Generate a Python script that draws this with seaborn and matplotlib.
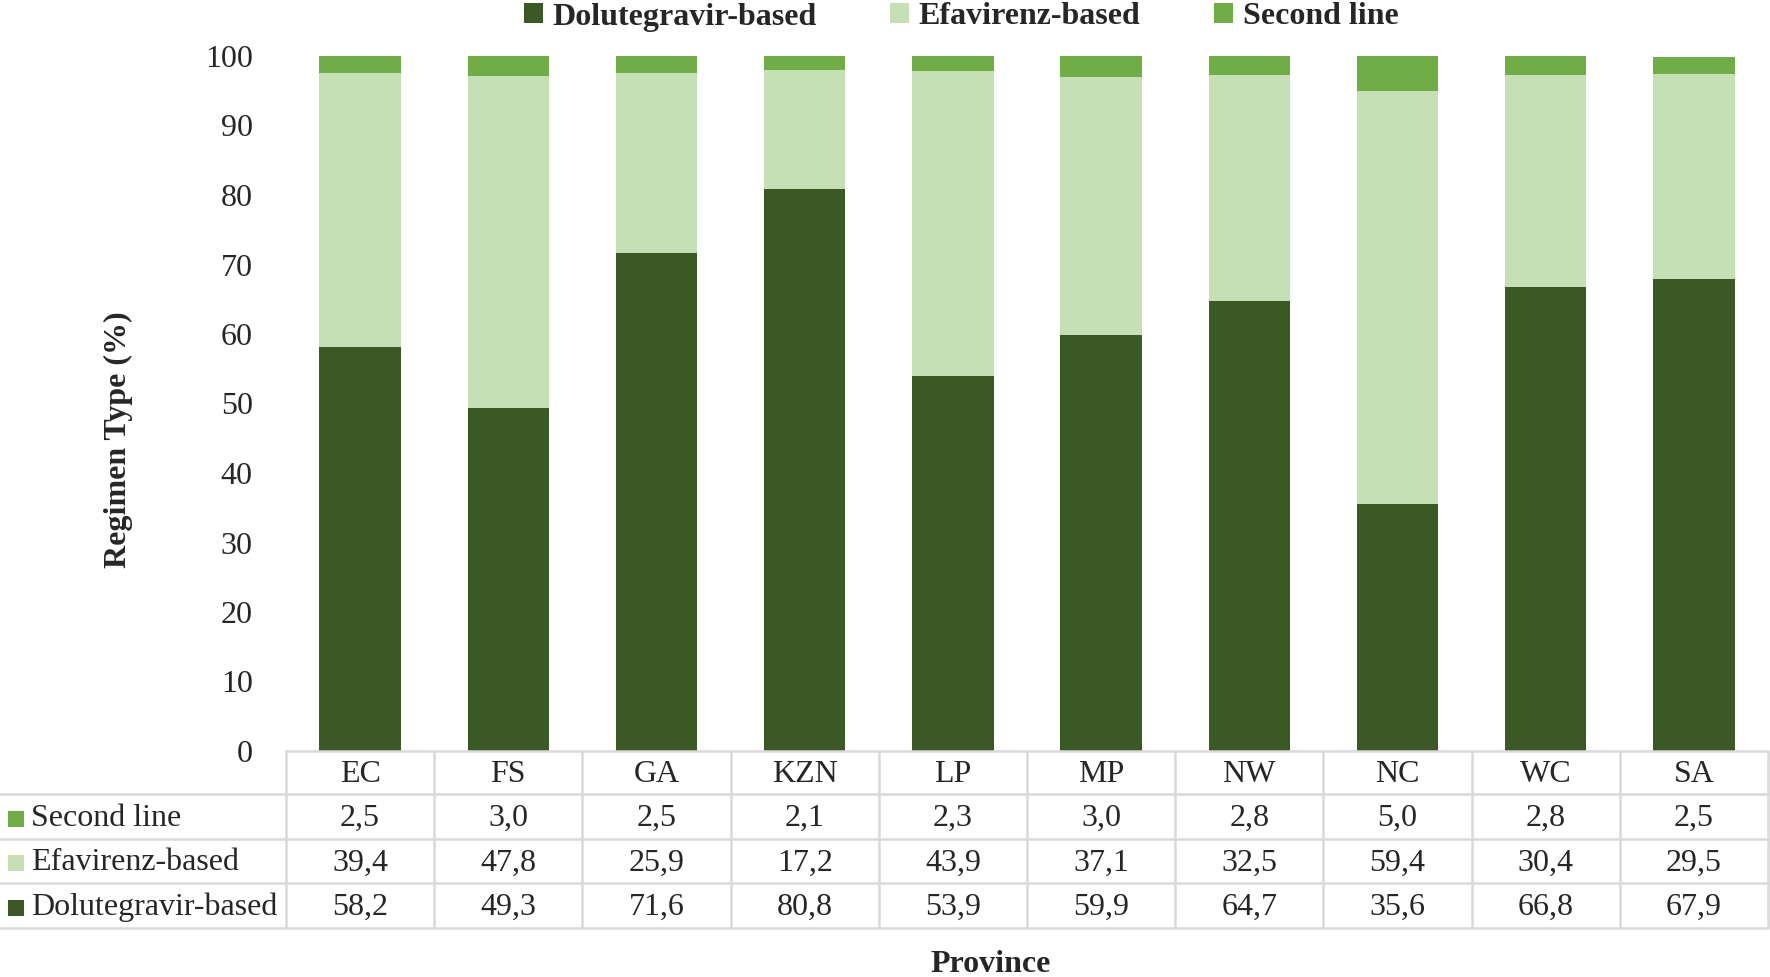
import matplotlib
matplotlib.use("Agg")
import matplotlib.pyplot as plt
from matplotlib.patches import Rectangle
from matplotlib.lines import Line2D
import numpy as np
import pandas as pd
import seaborn as sns

provinces = ["EC", "FS", "GA", "KZN", "LP", "MP", "NW", "NC", "WC", "SA"]
dolutegravir = [58.2, 49.3, 71.6, 80.8, 53.9, 59.9, 64.7, 35.6, 66.8, 67.9]
efavirenz = [39.4, 47.8, 25.9, 17.2, 43.9, 37.1, 32.5, 59.4, 30.4, 29.5]
second_line = [2.5, 3.0, 2.5, 2.1, 2.3, 3.0, 2.8, 5.0, 2.8, 2.5]

series_names = ["Dolutegravir-based", "Efavirenz-based", "Second line"]
colors = {"Dolutegravir-based": "#3B5925",
          "Efavirenz-based": "#C5E0B4",
          "Second line": "#70AD47"}
yticks = list(range(0, 101, 10))

sns.set_theme(style="white")
plt.rcParams["font.family"] = ["Liberation Serif", "DejaVu Serif"]
FS = 23

df = pd.DataFrame({"Province": provinces,
                   "Dolutegravir-based": dolutegravir,
                   "Efavirenz-based": efavirenz,
                   "Second line": second_line})
df["top_dol"] = df["Dolutegravir-based"]
df["top_efa"] = df["top_dol"] + df["Efavirenz-based"]
df["top_sec"] = df["top_efa"] + df["Second line"]

W, H = 1770, 977
fig = plt.figure(figsize=(W / 100, H / 100), dpi=100)
ax_left, ax_right = 286 / W, 1768 / W
ax_bottom, ax_top = 1 - 751 / H, 1 - 56 / H
ax = fig.add_axes([ax_left, ax_bottom, ax_right - ax_left, ax_top - ax_bottom])

# Stacked bars: draw cumulative heights from the top segment downwards
for col, name in [("top_sec", "Second line"), ("top_efa", "Efavirenz-based"),
                  ("top_dol", "Dolutegravir-based")]:
    sns.barplot(data=df, x="Province", y=col, color=colors[name], width=0.55,
                saturation=1, ax=ax, errorbar=None, edgecolor="none")

ax.set_ylim(0, 100)
ax.set_xlim(-0.5, len(provinces) - 0.5)
ax.set_yticks(yticks)
ax.set_yticklabels([str(t) for t in yticks], fontsize=FS)
ax.tick_params(axis="y", length=0, pad=24)
ax.set_xticks([])
ax.set_xlabel("")
ax.set_ylabel("")
for s in ax.spines.values():
    s.set_visible(False)

# Data table beneath the plot, in figure pixel coordinates
grid_c = "#D9D9D9"
row_edges = [751, 794, 839, 883, 928]
col_w = (1768 - 286) / len(provinces)
col_edges = [286 + i * col_w for i in range(len(provinces) + 1)]

def fx(px):
    return px / W

def fy(py):
    return 1 - py / H

fig.text(fx(118), fy(440), "Regimen Type (%)", rotation=90, ha="center",
         va="center", fontsize=FS, fontweight="bold")

lw = 1.8
fig.add_artist(Line2D([fx(286), fx(1768)], [fy(751), fy(751)], color=grid_c, lw=lw))
for yp in row_edges[1:]:
    fig.add_artist(Line2D([fx(0), fx(1768)], [fy(yp), fy(yp)], color=grid_c, lw=lw))
for xp in col_edges:
    fig.add_artist(Line2D([fx(xp), fx(xp)], [fy(751), fy(928)], color=grid_c, lw=lw))

for i, p in enumerate(provinces):
    cx = (col_edges[i] + col_edges[i + 1]) / 2
    fig.text(fx(cx), fy((row_edges[0] + row_edges[1]) / 2 + 2), p,
             ha="center", va="center", fontsize=FS)

table_rows = [("Second line", second_line),
              ("Efavirenz-based", efavirenz),
              ("Dolutegravir-based", dolutegravir)]
for r, (name, vals) in enumerate(table_rows):
    y0, y1 = row_edges[r + 1], row_edges[r + 2]
    cy = (y0 + y1) / 2 + 2
    fig.add_artist(Rectangle((fx(8), fy(cy + 8)), 16 / W, 16 / H,
                             facecolor=colors[name], edgecolor="none",
                             transform=fig.transFigure))
    fig.text(fx(31), fy(cy), name, ha="left", va="center", fontsize=FS)
    for i, v in enumerate(vals):
        cx = (col_edges[i] + col_edges[i + 1]) / 2
        fig.text(fx(cx), fy(cy), f"{v:.1f}".replace(".", ","),
                 ha="center", va="center", fontsize=FS)

fig.text(fx(991), fy(964), "Province", ha="center", va="center",
         fontsize=FS, fontweight="bold")

# Legend across the top
handles = [Rectangle((0, 0), 1, 1, facecolor=colors[n], edgecolor="none")
           for n in series_names]
fig.legend(handles, series_names, loc="center", bbox_to_anchor=(fx(961), fy(17)),
           ncol=3, frameon=False, handlelength=0.6, handleheight=0.6,
           handletextpad=0.3, columnspacing=2.3,
           prop={"family": "Liberation Serif", "weight": "bold", "size": 23})

fig.savefig("out.png", dpi=100)
